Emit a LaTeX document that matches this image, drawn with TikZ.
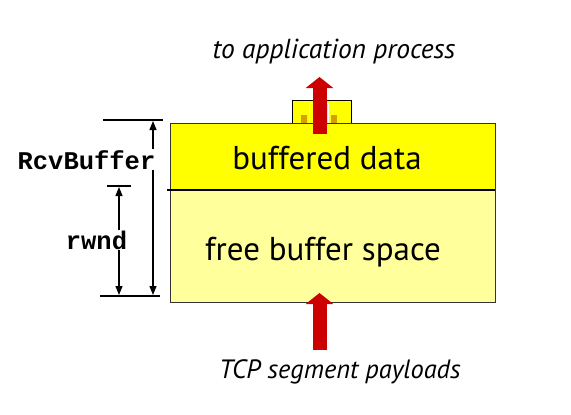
\documentclass[tikz,border=0pt]{standalone}
\usepackage{fontspec}
\setmainfont{PT Sans}
\setmonofont{Liberation Mono}
\usetikzlibrary{arrows.meta}
\definecolor{bufyellow}{HTML}{FFFF00}
\definecolor{freeyellow}{HTML}{FFFF9C}
\definecolor{tcpred}{HTML}{CC0000}
\definecolor{gold}{HTML}{D4A000}
\tikzset{
  region/.style={draw=black!80, line width=0.9pt, inner sep=0pt},
  redarrow/.style={tcpred, line width=14pt, -{Triangle[width=27pt,length=11pt]}},
  dimline/.style={black, line width=1.2pt},
  dimarrow/.style={black, line width=1.2pt, {Triangle[width=7pt,length=9pt]}-{Triangle[width=7pt,length=9pt]}},
  bigtext/.style={font=\fontsize{33}{33}\selectfont, anchor=base, inner sep=0pt},
  itext/.style={font=\fontsize{27.5}{27.5}\selectfont\itshape, anchor=base, inner sep=0pt},
  monotext/.style={font=\fontsize{25.5}{25.5}\selectfont\ttfamily\bfseries, anchor=base, fill=white, inner sep=1pt}
}
\begin{document}
\begin{tikzpicture}[x=1pt,y=-1pt]
\useasboundingbox (0,0) rectangle (571,415);
% small box on top
\draw[fill=bufyellow, draw=black, line width=0.9pt] (292,100) rectangle (351,123);
\node[fill=gold, minimum width=6pt, minimum height=8pt, inner sep=0pt] (sq1) at (304,119) {};
\node[fill=gold, minimum width=6pt, minimum height=8pt, inner sep=0pt] (sq2) at (334,119) {};
\node[draw=white, line width=1pt, minimum width=19pt, minimum height=20pt, inner sep=0pt] (slot) at (319,113) {};
% main regions
\node[region, fill=bufyellow, minimum width=325pt, minimum height=67pt] (buffered) at (332.5,156.5) {};
\node[region, fill=freeyellow, minimum width=325pt, minimum height=112pt] (free) at (332.5,246) {};
\draw[black, line width=2.8pt] (167,190) -- (495,190);
% texts
\node[bigtext] (tbuf) at (327,169) {buffered data};
\node[bigtext] (tfree) at (323,260) {free buffer space};
\node[itext] (tapp) at (334,58) {to application process};
\node[itext, font=\fontsize{26.5}{26.5}\selectfont\itshape] (ttcp) at (340,378) {TCP segment payloads};
% red arrows
\coordinate (upstart) at (319.5,134);
\coordinate (upend) at (319.5,77);
\coordinate (instart) at (319.5,350);
\coordinate (inend) at (319.5,293);
\draw[redarrow] (upstart) -- (upend);
\draw[redarrow] (instart) -- (inend);
% dimension lines
\coordinate (t1a) at (103,120); \coordinate (t1b) at (163,120);
\coordinate (t2a) at (100,296); \coordinate (t2b) at (160,296);
\coordinate (t3a) at (107,186); \coordinate (t3b) at (131,186);
\draw[dimline] (t1a) -- (t1b);
\draw[dimline] (t2a) -- (t2b);
\draw[dimline] (t3a) -- (t3b);
\coordinate (rb1) at (153,121);
\coordinate (rb2) at (153,295);
\coordinate (rw1) at (119,187);
\coordinate (rw2) at (119,295);
\draw[dimarrow] (rb1) -- (rb2);
\draw[dimarrow] (rw1) -- (rw2);
\node[monotext] (lrcv) at (86.5,169) {RcvBuffer};
\node[monotext] (lrwnd) at (96.5,249) {rwnd};
\end{tikzpicture}
\end{document}
